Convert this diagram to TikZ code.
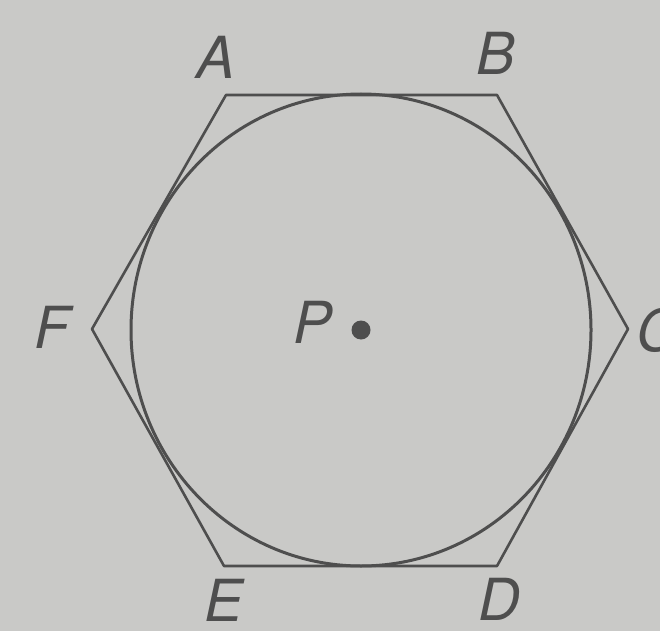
\documentclass[tikz,border=0pt]{standalone}
\usepackage{fontspec}
\setsansfont{TeX Gyre Heros}
\usetikzlibrary{calc}
\definecolor{paper}{RGB}{201,201,199}
\definecolor{ink}{RGB}{78,78,78}

\begin{document}
\begin{tikzpicture}[x=1pt, y=-1pt,
    edgestyle/.style={ink, line width=2.6pt, line join=round},
    rimstyle/.style={ink, line width=3pt},
    lbl/.style={ink, font=\fontsize{58}{58}\selectfont\sffamily\itshape, inner sep=0pt},
    vertex/.style={circle, fill=ink, inner sep=0pt, minimum size=19pt}]
  % background and frame
  \fill[paper] (0,0) rectangle (660,631);
  \useasboundingbox (0,0) rectangle (660,631);
  % hexagon corners
  \coordinate (A) at (226,95);
  \coordinate (B) at (497,95);
  \coordinate (C) at (628,329);
  \coordinate (D) at (497,566);
  \coordinate (E) at (224,566);
  \coordinate (F) at (92,329);
  \coordinate (P) at (361,330);
  % hexagon
  \draw[edgestyle] (A) -- (B) -- (C) -- (D) -- (E) -- (F) -- cycle;
  % circle
  \draw[rimstyle] (P) ellipse [x radius=230, y radius=236];
  % centre + labels
  \node[vertex] (Pdot) at (P) {};
  \node[lbl] (Alab) at (216,57) {A};
  \node[lbl] (Blab) at (496,53) {B};
  \node[lbl] (Clab) at (657,330) {C};
  \node[lbl] (Dlab) at (499,599) {D};
  \node[lbl] (Elab) at (224,600) {E};
  \node[lbl] (Flab) at (52,327) {F};
  \node[lbl] (Plab) at (313,322) {P};
\end{tikzpicture}
\end{document}
